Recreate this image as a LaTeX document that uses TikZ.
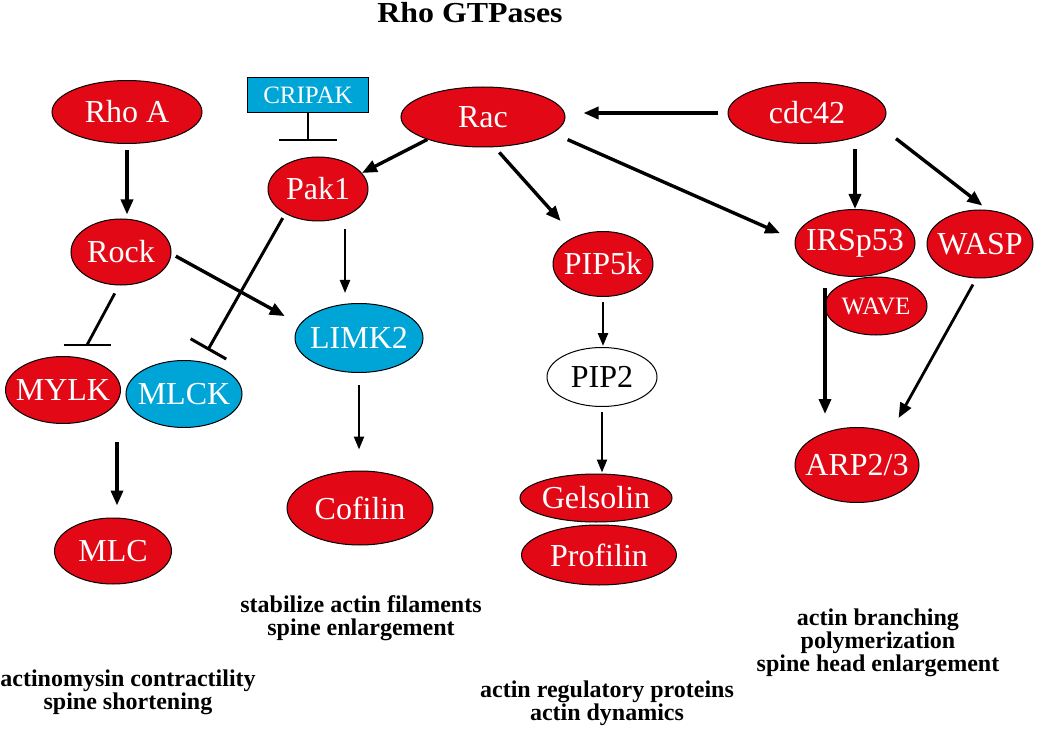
\documentclass[tikz,border=0pt]{standalone}
\usepackage{fontspec}
\usepackage{graphicx}
\setmainfont{Liberation Serif}
\usetikzlibrary{shapes.geometric,arrows.meta,calc}
\definecolor{rhored}{RGB}{226,8,22}
\definecolor{rhocyan}{RGB}{0,165,216}
\newcommand{\mkz}[1]{\makebox[0pt]{#1}}
\begin{document}
\begin{tikzpicture}[x=1pt,y=-1pt,
  prot/.style={ellipse, draw=black, line width=1pt, fill=rhored, text=white, inner sep=0pt,
    font=\fontsize{32}{36}\selectfont},
  blue prot/.style={prot, fill=rhocyan},
  white prot/.style={prot, fill=white, text=black},
  arr/.style={line width=3.4pt, -{Triangle[length=15pt,width=12pt]}},
  thinarr/.style={line width=2.2pt, -{Triangle[length=13pt,width=10pt]}},
  inh/.style={line width=2.8pt},
  lab/.style={font=\bfseries\fontsize{24}{23}\selectfont, align=center, inner sep=0pt}
]
\useasboundingbox (0,0) rectangle (1050,738);
\fill[white] (0,0) rectangle (1050,738);

\node[font=\bfseries\fontsize{29}{34}\selectfont, anchor=base, inner sep=0pt] (title) at (470,23) {\scalebox{1.1}[1]{Rho GTPases}};

% nodes
\node[prot, minimum width=150pt, minimum height=63pt] (rhoA) at (127,112) {\mkz{Rho A}};
\node[prot, minimum width=100pt, minimum height=66pt] (rock) at (121,252) {\mkz{Rock}};
\node[prot, minimum width=164pt, minimum height=60pt] (rac) at (483,117) {\mkz{Rac}};
\node[prot, minimum width=100pt, minimum height=64pt] (pak1) at (318,189) {\mkz{Pak1}};
\node[prot, minimum width=158pt, minimum height=61pt] (cdc42) at (807,113) {\mkz{cdc42}};
\node[prot, minimum width=102pt, minimum height=58pt, font=\fontsize{25}{30}\selectfont] (wave) at (876,306) {\mkz{WAVE}};
\node[prot, minimum width=120pt, minimum height=67pt] (irsp53) at (855,243) {\mkz{IRSp53}};
\node[prot, minimum width=106pt, minimum height=68pt] (wasp) at (980,244) {\mkz{WASP}};
\node[prot, minimum width=100pt, minimum height=65pt] (pip5k) at (603,264) {\mkz{PIP5k}};
\node[white prot, minimum width=110pt, minimum height=59pt] (pip2) at (602,377) {\mkz{PIP2}};
\node[prot, minimum width=152pt, minimum height=48pt] (gelsolin) at (596,498) {\mkz{Gelsolin}};
\node[prot, minimum width=155pt, minimum height=60pt] (profilin) at (599,555) {\mkz{Profilin}};
\node[prot, minimum width=124pt, minimum height=75pt] (arp) at (857,465) {\mkz{ARP2/3}};
\node[prot, minimum width=115pt, minimum height=67pt] (mylk) at (63,390) {\mkz{MYLK}};
\node[blue prot, minimum width=116pt, minimum height=67pt] (mlck) at (184,394) {\mkz{MLCK}};
\node[blue prot, minimum width=128pt, minimum height=69pt] (limk2) at (359,338) {\mkz{LIMK2}};
\node[prot, minimum width=146pt, minimum height=74pt] (cofilin) at (360,508) {\mkz{Cofilin}};
\node[prot, minimum width=117pt, minimum height=66pt] (mlc) at (113,551) {\mkz{MLC}};
\node[rectangle, draw=black, line width=1pt, fill=rhocyan, text=white, inner sep=0pt,
  minimum width=121pt, minimum height=35pt, font=\fontsize{25}{30}\selectfont] (cripak) at (308,95) {CRIPAK};

% connectors
\draw[arr, shorten <=6pt, shorten >=4pt] (rhoA.south) -- (rhoA.south |- rock.north);
\draw[line width=2.2pt, -{Bar[width=58pt]}, shorten >=15pt] (cripak.south) -- (cripak.south |- pak1.north);
\draw[arr] (rac.202) -- (pak1.20);
\draw[arr, shorten <=7pt, shorten >=21pt] (rac.291) -- (pip5k.136);
\draw[arr, shorten <=16pt, shorten >=16pt] (rac.347) -- (irsp53.177);
\draw[arr, shorten <=10pt, shorten >=18pt] (cdc42.west) -- (cdc42.west -| rac.east);
\draw[arr, shorten <=5pt] (irsp53.north |- cdc42.south) -- (irsp53.north);
\draw[arr, shorten <=21pt, shorten >=7pt] (cdc42.350) -- (wasp.77);
\coordinate (p1) at ([xshift=27pt]pak1.south);
\draw[thinarr, shorten <=8pt, shorten >=10pt] (p1) -- (p1 |- limk2.north);
\draw[inh, line width=3pt, -{Bar[width=41pt]}, shorten <=5pt, shorten >=13pt] (pak1.217) -- (mlck.62);
\draw[arr, shorten <=5pt, shorten >=17pt] (rock.358) -- (limk2.167);
\coordinate (mb) at ([xshift=24pt,yshift=11pt]mylk.north);
\coordinate (rs) at ([xshift=-2pt]rock.south);
\draw[inh, shorten <=9pt] (rs) -- (mb);
\draw[line width=2.2pt] ([xshift=-23.5pt]mb) -- ([xshift=23.5pt]mb);
\coordinate (m1) at ([xshift=4pt]mlc.north);
\draw[arr, shorten <=18pt, shorten >=12pt] (m1 |- mylk.south) -- (m1);
\draw[thinarr, shorten <=12pt, shorten >=21pt] (limk2.south) -- (limk2.south |- cofilin.north);
\draw[thinarr, line width=2.6pt, shorten <=5pt, shorten >=1pt] (pip5k.south) -- (pip5k.south |- pip2.north);
\draw[thinarr, shorten <=5pt, shorten >=1pt] (pip2.south) -- (pip2.south |- gelsolin.north);
\coordinate (i1) at ([xshift=-30pt]irsp53.south);
\draw[arr, shorten <=11pt, shorten >=13pt] (i1) -- (i1 |- arp.north);
\draw[arr, line width=2.8pt, shorten <=7pt, shorten >=17pt] (wasp.264) -- (arp.44);

% labels
\node[lab] (t1) at (361,618) {stabilize actin filaments\\spine enlargement};
\node[lab] (t2) at (128,692) {actinomysin contractility\\spine shortening};
\node[lab] (t3) at (607,703) {actin regulatory proteins\\actin dynamics};
\node[lab] (t4) at (878,643) {actin branching\\polymerization\\spine head enlargement};
\end{tikzpicture}
\end{document}
